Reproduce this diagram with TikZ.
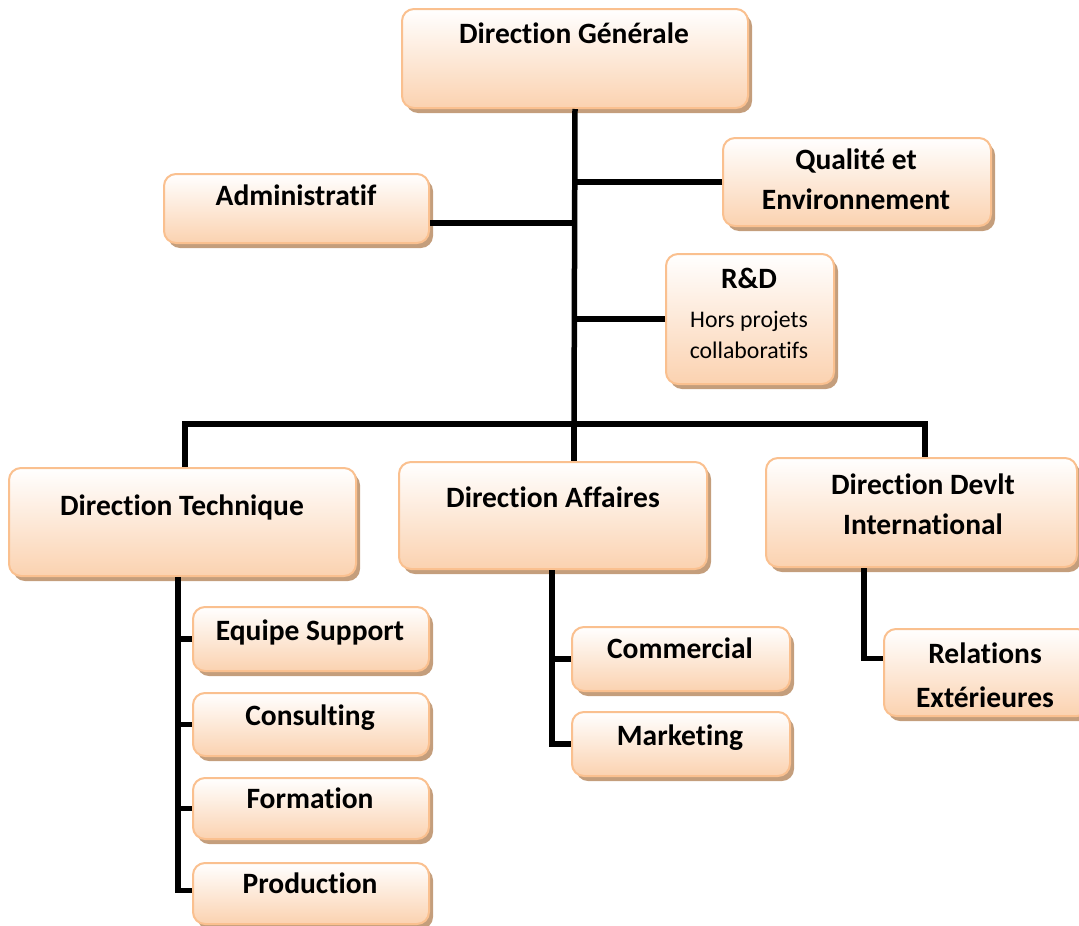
\documentclass[tikz,border=0pt]{standalone}
\usepackage{fontspec}
\setmainfont{Carlito}[Ligatures=NoCommon]
\usetikzlibrary{shadows,calc}
\definecolor{peach}{RGB}{251,210,176}
\definecolor{peachline}{RGB}{250,192,143}
\definecolor{shadowc}{RGB}{196,158,124}
\tikzset{
 box/.style={draw=peachline, line width=2pt, rounded corners=12pt, top color=white, bottom color=peach, anchor=north west, inner sep=0pt,
   drop shadow={shadow xshift=4pt, shadow yshift=-5pt, fill=shadowc, opacity=1}},
 lbl/.style={anchor=base, font=\fontsize{29.5}{31}\selectfont\bfseries, inner sep=0pt},
 small/.style={anchor=base, font=\fontsize{23.8}{25}\selectfont, inner sep=0pt},
 conn/.style={line width=5.5pt, draw=black, line cap=butt, line join=miter}
}
\begin{document}
\begin{tikzpicture}[x=1pt,y=-1pt]
\useasboundingbox (0,0) rectangle (1079,926);
% boxes
\node[box, minimum width=346pt, minimum height=99pt] (dg) at (401,8) {};
\node[box, minimum width=265pt, minimum height=69pt] (adm) at (163,173) {};
\node[box, minimum width=268pt, minimum height=88pt] (qe) at (722,137) {};
\node[box, minimum width=168pt, minimum height=130pt] (rd) at (665,253) {};
\node[box, minimum width=347pt, minimum height=108pt] (dt) at (8,467) {};
\node[box, minimum width=308pt, minimum height=107pt] (da) at (398,461) {};
\node[box, minimum width=311pt, minimum height=109pt] (di) at (765,457) {};
\node[box, minimum width=236pt, minimum height=64pt] (es) at (192,606) {};
\node[box, minimum width=236pt, minimum height=63pt] (cons) at (192,692) {};
\node[box, minimum width=236pt, minimum height=61pt] (form) at (192,777) {};
\node[box, minimum width=236pt, minimum height=61pt] (prod) at (192,862) {};
\node[box, minimum width=218pt, minimum height=64pt] (com) at (571,626) {};
\node[box, minimum width=218pt, minimum height=64pt] (mkt) at (571,711) {};
\node[box, minimum width=205pt, minimum height=87pt] (re) at (883,628) {};
% texts
\node[lbl] (dg-t) at (574,43) {Direction Générale};
\node[lbl] (adm-t) at (296,205) {Administratif};
\node[lbl] (qe-t1) at (856,169) {Qualité et};
\node[lbl] (qe-t2) at (856,209) {Environnement};
\node[lbl] (rd-t1) at (749,288) {R\&D};
\node[small] (rd-t2) at (749,327) {Hors projets};
\node[small] (rd-t3) at (749,358) {collaboratifs};
\node[lbl] (dt-t) at (182,515) {Direction Technique};
\node[lbl] (da-t) at (553,507) {Direction Affaires};
\node[lbl] (di-t1) at (923,494) {Direction Devlt};
\node[lbl] (di-t2) at (923,534) {International};
\node[lbl] (es-t) at (310,640) {Equipe Support};
\node[lbl] (cons-t) at (310,725) {Consulting};
\node[lbl] (form-t) at (310,808) {Formation};
\node[lbl] (prod-t) at (310,893) {Production};
\node[lbl] (com-t) at (680,658) {Commercial};
\node[lbl] (mkt-t) at (680,745) {Marketing};
\node[lbl] (re-t1) at (985,663) {Relations};
\node[lbl] (re-t2) at (985,707) {Extérieures};
% connectors
\coordinate (bus) at (574,424);
\draw[conn] (dg.south) -- (bus);
\draw[conn] (qe.west) -- (qe.west -| dg.south);
\draw[conn] ($(adm.east)+(0,14.5)$) -- ($(adm.east -| dg.south)+(0,14.5)$);
\draw[conn] (rd.west) -- (rd.west -| dg.south);
\draw[conn] ($(dt.north)+(2.5,0)$) -- ($(dt.north |- bus)+(2.5,0)$) -- ($(di.north |- bus)+(3.5,0)$) -- ($(di.north)+(3.5,0)$);
\draw[conn] (bus) -- (bus |- da.north);
\coordinate (tx) at ($(dt.south)+(-4.5,0)$);
\draw[conn] (tx) |- ($(prod.west)+(0,-3)$);
\draw[conn] (es.west) -- (es.west -| tx);
\draw[conn] (cons.west) -- (cons.west -| tx);
\draw[conn] (form.west) -- (form.west -| tx);
\coordinate (ax) at ($(da.south)+(-1,0)$);
\draw[conn] (ax) |- (mkt.west);
\draw[conn] (com.west) -- (com.west -| ax);
\coordinate (ix) at (864,0);
\draw[conn] (di.south -| ix) |- ($(re.west)+(0,-14)$);
\end{tikzpicture}
\end{document}
